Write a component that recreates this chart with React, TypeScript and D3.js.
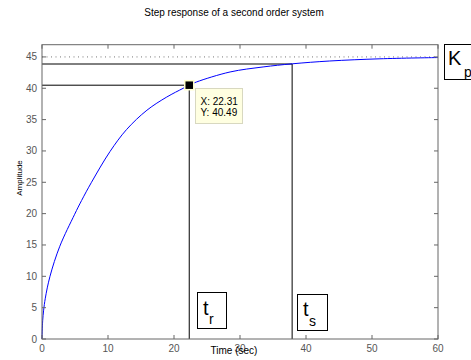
import React from "react";
import * as d3 from "d3";

const timeSec = [0, 0.1, 0.25, 0.5, 1.21, 2.7, 4.95, 6.0, 7.5, 10.3, 12.8, 15.9, 18.9, 21.4, 22.31, 23.4, 28.5, 33.5, 37.9, 43.6, 51.2, 60];
const amplitude = [0, 2.9, 4.6, 6.5, 10.0, 14.8, 19.9, 22.1, 25.0, 29.9, 33.4, 36.5, 38.6, 40.0, 40.49, 41.0, 42.6, 43.4, 43.9, 44.35, 44.7, 44.9];
const xTicks = [0, 10, 20, 30, 40, 50, 60];
const yTicks = [0, 5, 10, 15, 20, 25, 30, 35, 40, 45];
const finalValue = 45;
const riseTime = 22.31;
const riseValue = 40.49;
const settleTime = 37.9;
const settleValue = 43.87;

const W = 471, H = 360;
const L = 42, R = 438, T = 44.7, B = 339;

export default function App() {
  const x = d3.scaleLinear().domain([0, 60]).range([L, R]);
  const y = d3.scaleLinear().domain([0, 46.95]).range([B, T]);
  const pts = timeSec.map((t, i) => [t, amplitude[i]] as [number, number]);
  const line = d3.line<[number, number]>().x(d => x(d[0])).y(d => y(d[1])).curve(d3.curveCatmullRom.alpha(0.5));
  const font = "Liberation Sans, Arial, sans-serif";
  const axisCol = "#666";
  const tickLen = 4;
  return (
    <svg width={W} height={H} style={{ position: "absolute", left: 0, top: 0, background: "#fff" }} fontFamily={font}>
      <rect x={0} y={0} width={W} height={H} fill="#fff" />
      <text x={234} y={16} fontSize={10} textAnchor="middle" fill="#000">Step response of a second order system</text>
      <line x1={x(0)} x2={x(60)} y1={y(finalValue)} y2={y(finalValue)} stroke="#777" strokeDasharray="1,3.5" strokeWidth={1} />
      <line x1={x(0)} x2={x(riseTime)} y1={y(riseValue)} y2={y(riseValue)} stroke="#000" strokeWidth={1} />
      <line x1={x(riseTime)} x2={x(riseTime)} y1={y(0)} y2={y(riseValue)} stroke="#000" strokeWidth={1} />
      <line x1={x(0)} x2={x(settleTime)} y1={y(settleValue)} y2={y(settleValue)} stroke="#000" strokeWidth={1} />
      <line x1={x(settleTime)} x2={x(settleTime)} y1={y(0)} y2={y(settleValue)} stroke="#000" strokeWidth={1} />
      <path d={line(pts) || ""} fill="none" stroke="#0000ff" strokeWidth={1} />
      <rect x={L} y={T} width={R - L} height={B - T} fill="none" stroke={axisCol} strokeWidth={1} />
      {xTicks.map(t => (
        <g key={"x" + t}>
          <line x1={x(t)} x2={x(t)} y1={B} y2={B - tickLen} stroke={axisCol} />
          <line x1={x(t)} x2={x(t)} y1={T} y2={T + tickLen} stroke={axisCol} />
          <text x={x(t)} y={352} fontSize={10} textAnchor="middle" fill="#555">{t}</text>
        </g>
      ))}
      {yTicks.map(v => (
        <g key={"y" + v}>
          <line x1={L} x2={L + tickLen} y1={y(v)} y2={y(v)} stroke={axisCol} />
          <line x1={R} x2={R - tickLen} y1={y(v)} y2={y(v)} stroke={axisCol} />
          <text x={37} y={y(v) + 3.5} fontSize={10} textAnchor="end" fill="#555">{v}</text>
        </g>
      ))}
      <text x={234} y={354} fontSize={10} textAnchor="middle" fill="#000">Time (sec)</text>
      <text transform={`translate(22,178) rotate(-90)`} fontSize={8} textAnchor="middle" fill="#000">Amplitude</text>
      <rect x={x(riseTime) - 4.5} y={y(riseValue) - 4.5} width={9} height={9} fill="#000" stroke="#ffffcc" strokeWidth={1.5} />
      <rect x={195.5} y={88.5} width={47} height={35} fill="#ffffe1" stroke="#d8d8c0" />
      <text x={200.5} y={105} fontSize={10} fill="#000">X: 22.31</text>
      <text x={200.5} y={116} fontSize={10} fill="#000">Y: 40.49</text>
      <rect x={197.5} y={292.5} width={29} height={36} fill="#fff" stroke="#000" />
      <text x={203} y={315} fontSize={20} fill="#000">t</text>
      <text x={209} y={324} fontSize={14} fill="#000">r</text>
      <rect x={297.5} y={294.5} width={30} height={36} fill="#fff" stroke="#000" />
      <text x={303} y={316} fontSize={20} fill="#000">t</text>
      <text x={309} y={326} fontSize={14} fill="#000">s</text>
      <rect x={444.5} y={44.5} width={40} height={35} fill="#fff" stroke="#000" />
      <text x={448} y={65} fontSize={20} fill="#000">K</text>
      <text x={464} y={77} fontSize={14} fill="#000">p</text>
    </svg>
  );
}
